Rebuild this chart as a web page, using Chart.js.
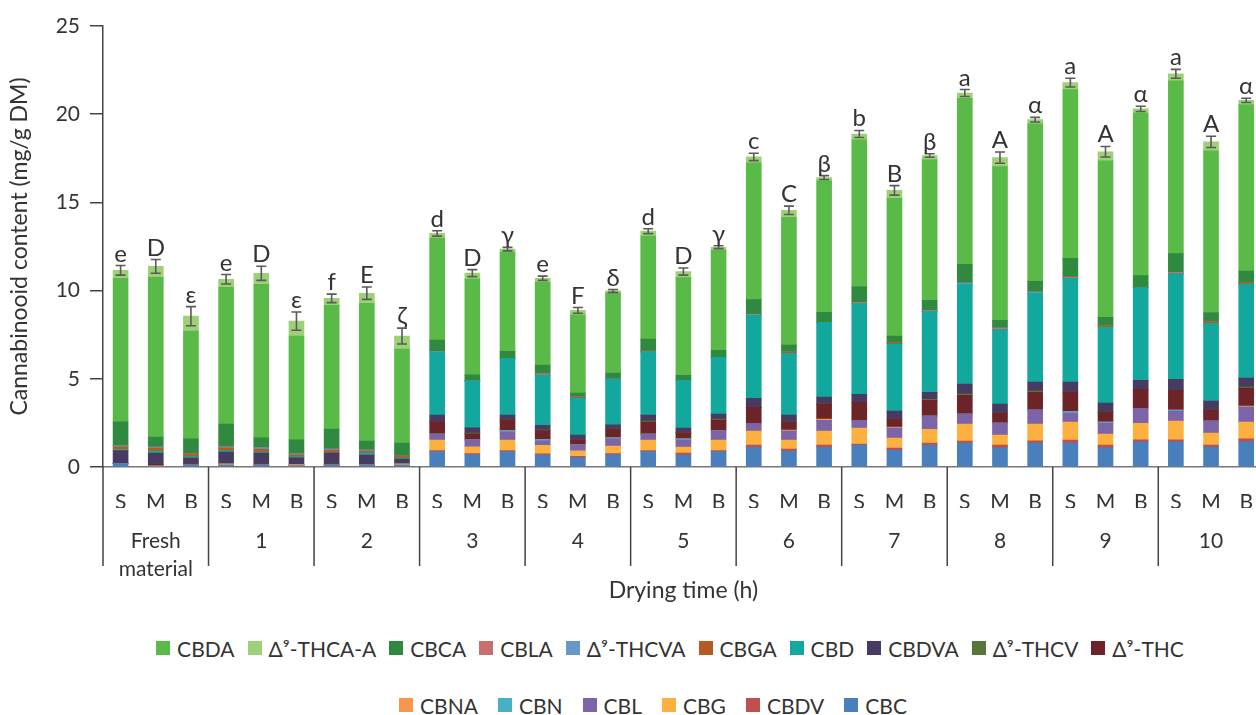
<!DOCTYPE html>
<html>
<head>
<meta charset="utf-8">
<script src="https://cdn.jsdelivr.net/npm/chart.js@4.4.1/dist/chart.umd.min.js"></script>
<style>
  html, body { margin: 0; padding: 0; width: 1256px; height: 715px; overflow: hidden; background: #fff; }
  #wrap { position: absolute; left: 0; top: 0; width: 1268px; height: 612px; }
  #legend { position: absolute; left: 0; top: 634px; width: 1340px; font-family: Lato, "Open Sans", sans-serif; font-size: 21px; color: #333; }
  .row { display: flex; justify-content: center; align-items: center; height: 28px; }
  .row + .row { margin-top: 29px; padding-right: 34px; }
  .item { display: flex; align-items: center; margin: 0 6.5px; white-space: nowrap; }
  .row + .row .item { margin: 0 10px; }
  .box { width: 14px; height: 14px; margin-right: 7px; }
</style>
</head>
<body>
<div id="wrap"><canvas id="grafica"></canvas></div>
<div id="legend"></div>
<script>
// categorias
var samples = ['S','M','B','S','M','B','S','M','B','S','M','B','S','M','B','S','M','B',
               'S','M','B','S','M','B','S','M','B','S','M','B','S','M','B'];
var groupLabels = [['Fresh', 'material'], '1', '2', '3', '4', '5', '6', '7', '8', '9', '10'];

// valores (mg/g DM), de abajo hacia arriba en la pila
var CBC    = [0.19,0.06,0.11, 0.11,0.11,0.06, 0.11,0.11,0.11, 0.87,0.70,0.87, 0.68,0.53,0.70, 0.87,0.68,0.87, 1.11,0.90,1.11, 1.24,0.96,1.24, 1.36,1.09,1.36, 1.36,1.09,1.43, 1.43,1.13,1.43];
var CBDV   = [0,0,0, 0,0,0, 0,0,0, 0.06,0.06,0.06, 0.06,0.08,0.06, 0.06,0.11,0.06, 0.13,0.11,0.13, 0.06,0.11,0.11, 0.11,0.15,0.13, 0.17,0.15,0.11, 0.11,0.11,0.17];
var CBG    = [0,0,0, 0.06,0,0.06, 0,0,0.06, 0.60,0.38,0.60, 0.49,0.30,0.43, 0.60,0.34,0.60, 0.79,0.51,0.79, 0.90,0.57,0.79, 0.96,0.57,0.94, 1.02,0.62,0.94, 1.06,0.68,0.94];
var CBL    = [0,0,0, 0,0,0, 0,0,0, 0.34,0.40,0.47, 0.26,0.34,0.40, 0.34,0.40,0.53, 0.45,0.51,0.62, 0.45,0.57,0.74, 0.57,0.68,0.79, 0.51,0.62,0.85, 0.57,0.68,0.85];
var CBN    = [0,0,0, 0,0,0, 0,0,0, 0,0,0.06, 0.06,0,0.06, 0,0.06,0, 0,0,0, 0,0,0, 0,0,0, 0.08,0.06,0, 0.05,0,0];
var CBNA   = [0,0,0, 0,0,0, 0,0,0, 0,0,0, 0,0,0, 0,0,0, 0,0.06,0.06, 0,0.06,0, 0,0,0, 0,0,0, 0,0,0.06];
var THC    = [0,0.11,0.06, 0,0.06,0, 0.06,0,0, 0.70,0.34,0.62, 0.51,0.28,0.51, 0.68,0.34,0.60, 0.90,0.45,0.85, 1.02,0.45,0.90, 1.07,0.57,1.02, 1.11,0.57,1.07, 1.13,0.62,1.02];
var THCV   = [0,0,0, 0,0,0, 0,0,0, 0,0.04,0, 0.04,0,0, 0.06,0,0.06, 0,0,0, 0,0,0.06, 0.06,0,0.06, 0,0,0, 0,0,0.06];
var CBDVA  = [0.74,0.62,0.34, 0.68,0.62,0.40, 0.62,0.57,0.28, 0.38,0.30,0.26, 0.26,0.28,0.23, 0.34,0.28,0.28, 0.51,0.40,0.40, 0.45,0.45,0.40, 0.57,0.51,0.51, 0.57,0.51,0.51, 0.62,0.51,0.51];
var CBD    = [0.06,0.11,0.06, 0.06,0.06,0.06, 0,0.11,0.06, 3.54,2.66,3.22, 2.85,2.09,2.60, 3.58,2.71,3.22, 4.69,3.51,4.24, 5.15,3.79,4.58, 5.66,4.24,5.03, 5.88,4.30,5.26, 6.00,4.41,5.32];
var CBGA   = [0.15,0.17,0.17, 0.17,0.17,0.11, 0.17,0.11,0.11, 0,0,0, 0,0.06,0, 0,0,0, 0,0.06,0, 0,0.06,0, 0,0,0, 0,0.09,0, 0,0.11,0.06];
var THCVA  = [0.06,0.06,0, 0.06,0.06,0.06, 0.06,0.06,0, 0.04,0,0, 0,0,0, 0,0,0, 0.06,0,0, 0,0,0, 0.06,0,0.08, 0,0,0, 0,0,0];
var CBLA   = [0,0,0, 0,0,0, 0,0,0, 0,0,0, 0.08,0,0, 0.04,0,0, 0,0,0, 0.06,0,0.06, 0,0.08,0, 0.06,0,0, 0.06,0,0];
var CBCA   = [1.36,0.57,0.85, 1.30,0.57,0.79, 1.13,0.51,0.74, 0.66,0.34,0.40, 0.49,0.23,0.34, 0.68,0.28,0.40, 0.85,0.40,0.57, 0.90,0.40,0.57, 1.07,0.43,0.60, 1.07,0.47,0.68, 1.07,0.51,0.68];
var CBDA   = [8.14,9.05,6.11, 7.75,8.71,5.88, 7.01,7.81,5.32, 5.79,5.43,5.62, 4.71,4.43,4.54, 5.84,5.54,5.67, 7.75,7.24,7.47, 8.31,7.81,7.98, 9.41,8.71,8.94, 9.56,8.88,9.22, 9.79,9.16,9.45];
var THCA_A = [0.45,0.62,0.85, 0.45,0.62,0.85, 0.40,0.57,0.74, 0.26,0.34,0.17, 0.21,0.26,0.11, 0.28,0.34,0.17, 0.34,0.40,0.17, 0.34,0.45,0.23, 0.30,0.51,0.23, 0.40,0.51,0.23, 0.40,0.51,0.23];

// desviación (±) y letras de significancia
var errores = [0.27,0.39,0.54, 0.27,0.40,0.52, 0.24,0.35,0.45, 0.15,0.20,0.10, 0.12,0.16,0.08, 0.14,0.20,0.08, 0.21,0.24,0.11, 0.20,0.27,0.10, 0.20,0.32,0.13, 0.25,0.30,0.15, 0.25,0.32,0.12];
var letras = ['e','D','ε', 'e','D','ε', 'f','E','ζ', 'd','D','γ', 'e','F','δ', 'd','D','γ', 'c','C','β', 'b','B','β', 'a','A','α', 'a','A','α', 'a','A','α'];

var ordenLeyenda = ['CBDA','Δ⁹-THCA-A','CBCA','CBLA','Δ⁹-THCVA','CBGA','CBD','CBDVA','Δ⁹-THCV','Δ⁹-THC',
                    'CBNA','CBN','CBL','CBG','CBDV','CBC'];

var FONT = 'Lato, "Open Sans", sans-serif';

var series = [
    { label: 'CBC', data: CBC, color: '#4a7fbd' },
    { label: 'CBDV', data: CBDV, color: '#c0504d' },
    { label: 'CBG', data: CBG, color: '#fbb03f' },
    { label: 'CBL', data: CBL, color: '#7b64a8' },
    { label: 'CBN', data: CBN, color: '#46b0c6' },
    { label: 'CBNA', data: CBNA, color: '#f7964c' },
    { label: 'Δ⁹-THC', data: THC, color: '#6d2428' },
    { label: 'Δ⁹-THCV', data: THCV, color: '#59773a' },
    { label: 'CBDVA', data: CBDVA, color: '#473b62' },
    { label: 'CBD', data: CBD, color: '#12a89d' },
    { label: 'CBGA', data: CBGA, color: '#b35b22' },
    { label: 'Δ⁹-THCVA', data: THCVA, color: '#6797c9' },
    { label: 'CBLA', data: CBLA, color: '#c8706e' },
    { label: 'CBCA', data: CBCA, color: '#2f8a3f' },
    { label: 'CBDA', data: CBDA, color: '#5aba48' },
    { label: 'Δ⁹-THCA-A', data: THCA_A, color: '#9dd077' }
];

var datasets = series.map(function (s) {
    return {
        label: s.label,
        data: s.data,
        backgroundColor: s.color,
        borderWidth: 0,
        barThickness: 15,
        stack: 'total'
    };
});

// barras de error, letras y separadores de grupos
var extras = {
    id: 'extras',
    afterDatasetsDraw: function (chart) {
        var ctx = chart.ctx;
        var x = chart.scales.x, y = chart.scales.y;
        ctx.save();
        for (var i = 0; i < samples.length; i++) {
            var total = 0;
            chart.data.datasets.forEach(function (ds) { total += ds.data[i]; });
            var px = x.getPixelForValue(i);
            var yt = y.getPixelForValue(total + errores[i]);
            var yb = y.getPixelForValue(total - errores[i]);
            ctx.strokeStyle = '#5a5a5a';
            ctx.lineWidth = 1.6;
            ctx.beginPath();
            ctx.moveTo(px, yt); ctx.lineTo(px, yb);
            ctx.moveTo(px - 5, yt); ctx.lineTo(px + 5, yt);
            ctx.moveTo(px - 5, yb); ctx.lineTo(px + 5, yb);
            ctx.stroke();
            ctx.fillStyle = '#333';
            ctx.font = '24px ' + FONT;
            ctx.textAlign = 'center';
            ctx.textBaseline = 'alphabetic';
            ctx.fillText(letras[i], px, yt - 4);
        }
        ctx.restore();
    },
    afterDraw: function (chart) {
        var ctx = chart.ctx;
        var x2 = chart.scales.x2;
        var half = (x2.getPixelForValue(1) - x2.getPixelForValue(0)) / 2;
        var top = chart.chartArea.bottom;
        ctx.save();
        ctx.strokeStyle = '#444';
        ctx.lineWidth = 1.5;
        ctx.beginPath();
        for (var g = 0; g <= groupLabels.length; g++) {
            var px = x2.getPixelForValue(g) - half;
            ctx.moveTo(px, top);
            ctx.lineTo(px, top + 99);
        }
        ctx.stroke();
        ctx.restore();
    }
};

var ctx = document.getElementById('grafica').getContext('2d');
var myChart = new Chart(ctx, {
    type: 'bar',
    data: { labels: samples, datasets: datasets },
    options: {
        responsive: true,
        maintainAspectRatio: false,
        animation: false,
        layout: { padding: { top: 26, right: 0, bottom: 0, left: 0 } },
        plugins: { legend: { display: false }, tooltip: { enabled: false } },
        scales: {
            x: {
                stacked: true,
                offset: true,
                grid: { display: false },
                border: { display: true, color: '#777', width: 1.5 },
                ticks: { color: '#333', font: { family: FONT, size: 21 }, padding: 15, autoSkip: false, maxRotation: 0 },
                afterFit: function (scale) { scale.height = 41; }
            },
            x2: {
                type: 'category',
                position: 'bottom',
                labels: groupLabels,
                offset: true,
                grid: { display: false },
                border: { display: false },
                ticks: { color: '#333', font: { family: FONT, size: 21, lineHeight: 1.33 }, padding: 11, autoSkip: false, maxRotation: 0 },
                title: { display: true, text: 'Drying time (h)', color: '#333', font: { family: FONT, size: 23 }, padding: { top: 4, bottom: 8 } },
                afterFit: function (scale) { scale.height = 104; }
            },
            y: {
                stacked: true,
                min: 0,
                max: 25,
                grid: { drawOnChartArea: false, drawTicks: true, tickLength: 13, color: '#444', lineWidth: 1.5 },
                border: { display: true, color: '#444', width: 1.5 },
                ticks: { stepSize: 5, color: '#333', font: { family: FONT, size: 21 }, padding: 10 },
                title: { display: true, text: 'Cannabinooid content (mg/g DM)', color: '#333', font: { family: FONT, size: 23 }, padding: { top: 6, bottom: 4 } },
                afterFit: function (scale) { scale.width = 103; }
            }
        }
    },
    plugins: [extras]
});

// leyenda en HTML (dos filas, como en la figura)
var leyenda = document.getElementById('legend');
var filas = [ordenLeyenda.slice(0, 10), ordenLeyenda.slice(10)];
filas.forEach(function (fila) {
    var row = document.createElement('div');
    row.className = 'row';
    fila.forEach(function (name) {
        var ds = myChart.data.datasets.find(function (d) { return d.label === name; });
        var item = document.createElement('div');
        item.className = 'item';
        var box = document.createElement('span');
        box.className = 'box';
        box.style.background = ds.backgroundColor;
        var txt = document.createElement('span');
        txt.textContent = ds.label;
        item.appendChild(box);
        item.appendChild(txt);
        row.appendChild(item);
    });
    leyenda.appendChild(row);
});
</script>
</body>
</html>
